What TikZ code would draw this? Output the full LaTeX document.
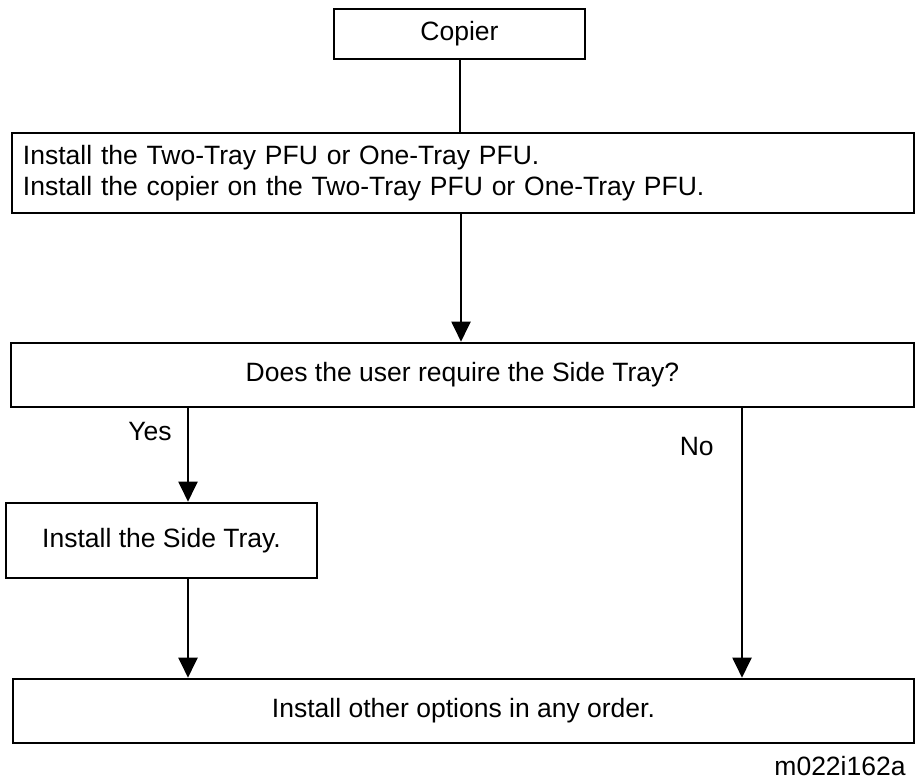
\documentclass[tikz,border=0pt]{standalone}
\usepackage{fontspec}
\setmainfont{Liberation Sans}
\usetikzlibrary{arrows.meta}
\usetikzlibrary{positioning}

\tikzset{
  stepbox/.style={draw, line width=2.6pt, inner sep=0pt, align=center},
  flow/.style={line width=2pt, -{Triangle[length=20pt, width=19pt]}}
}

\begin{document}
\begin{tikzpicture}[x=1pt, y=-1pt, font=\fontsize{26.5}{31}\selectfont]
\useasboundingbox (0,0) rectangle (915,780);

\node[stepbox, minimum width=251pt, minimum height=50pt] (copier) at (459.5,34) {Copier};
\node[stepbox, minimum width=902pt, minimum height=80pt, text width=880pt, align=left, inner xsep=11pt] (pfu) at (463,173)
  {Install the Two-Tray PFU or One-Tray PFU.\\Install the copier on the Two-Tray PFU or One-Tray PFU.};
\node[stepbox, minimum width=903pt, minimum height=64pt] (question) at (462.5,375) {Does the user require the Side Tray?};
\node[stepbox, minimum width=311pt, minimum height=75pt] (sidetray) at (161.5,540.5) {Install the Side Tray.};
\node[stepbox, minimum width=901pt, minimum height=64pt] (others) at (463.5,711) {Install other options in any order.};
\node[inner sep=0pt] (code) at (840,766) {m022i162a};

\coordinate (yesline) at (188,450);
\coordinate (noline) at (742,450);

\draw[line width=2pt] (copier) -- (copier |- pfu.north);
\draw[flow] ([xshift=1.5pt]pfu.south -| copier) -- ([xshift=1.5pt]question.north -| copier);
\draw[flow] (yesline |- question.south) -- (yesline |- sidetray.north) node[pos=0.25, left=12pt] (yes) {Yes};
\draw[flow] (yesline |- sidetray.south) -- (yesline |- others.north);
\draw[flow] (noline |- question.south) -- (noline |- others.north) node[pos=0.14, left=24pt] (no) {No};
\end{tikzpicture}
\end{document}
